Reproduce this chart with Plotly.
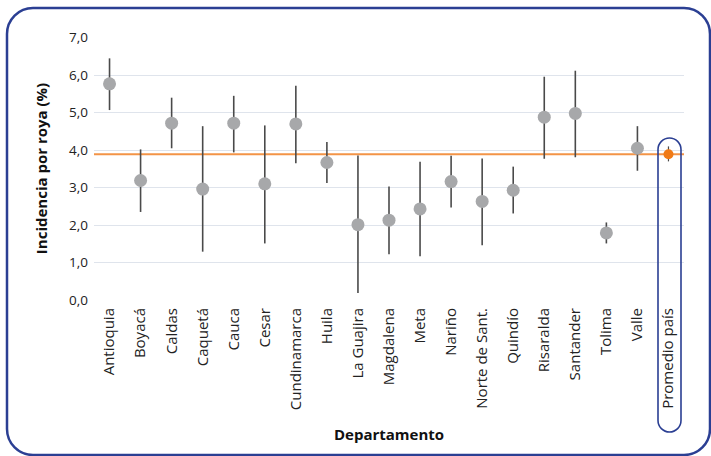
import plotly.graph_objects as go

# Datos
departamentos = ["Antioquia", "Boyacá", "Caldas", "Caquetá", "Cauca", "Cesar",
                 "Cundinamarca", "Huila", "La Guajira", "Magdalena", "Meta", "Nariño",
                 "Norte de Sant.", "Quindío", "Risaralda", "Santander", "Tolima", "Valle"]
incidencia = [5.77, 3.19, 4.72, 2.96, 4.72, 3.10, 4.70, 3.67, 2.01, 2.13, 2.43, 3.16,
              2.63, 2.93, 4.88, 4.98, 1.79, 4.05]
limite_sup = [6.45, 4.02, 5.40, 4.64, 5.45, 4.66, 5.72, 4.22, 3.86, 3.03, 3.69, 3.85,
              3.78, 3.56, 5.96, 6.12, 2.07, 4.64]
limite_inf = [5.07, 2.35, 4.05, 1.29, 3.94, 1.51, 3.65, 3.12, 0.19, 1.22, 1.17, 2.47,
              1.46, 2.31, 3.77, 3.81, 1.51, 3.45]

pais = "Promedio país"
promedio = 3.89
promedio_sup = 4.10
promedio_inf = 3.70

azul = "#2b3f93"
naranja = "#f07a16"
font_fam = "Open Sans, Noto Sans, sans-serif"

fig = go.Figure()

fig.add_hline(y=promedio, line=dict(color="#f39447", width=2), layer="below")

fig.add_trace(go.Scatter(
    x=departamentos, y=incidencia, mode="markers",
    marker=dict(color="#a7a8aa", size=13),
    error_y=dict(type="data", symmetric=False,
                 array=[s - m for s, m in zip(limite_sup, incidencia)],
                 arrayminus=[m - i for m, i in zip(incidencia, limite_inf)],
                 color="#4a4a4a", thickness=1.6, width=0),
    showlegend=False))

fig.add_trace(go.Scatter(
    x=[pais], y=[promedio], mode="markers",
    marker=dict(color=naranja, size=10),
    error_y=dict(type="data", symmetric=False,
                 array=[promedio_sup - promedio], arrayminus=[promedio - promedio_inf],
                 color="#4a4a4a", thickness=1.2, width=0),
    showlegend=False))


def rounded_rect(x0, y0, x1, y1, rx, ry):
    # rectangulo redondeado en coordenadas paper (curvas cubicas)
    k = 0.4477
    return (f"M {x0 + rx},{y1} L {x1 - rx},{y1} "
            f"C {x1 - rx * k},{y1} {x1},{y1 - ry * k} {x1},{y1 - ry} "
            f"L {x1},{y0 + ry} "
            f"C {x1},{y0 + ry * k} {x1 - rx * k},{y0} {x1 - rx},{y0} "
            f"L {x0 + rx},{y0} "
            f"C {x0 + rx * k},{y0} {x0},{y0 + ry * k} {x0},{y0 + ry} "
            f"L {x0},{y1 - ry} "
            f"C {x0},{y1 - ry * k} {x0 + rx * k},{y1} {x0 + rx},{y1} Z")


# plot area: x 94..684 px, y 37..300 px
W, H = 590, 263
px = lambda v: (v - 94) / W
py = lambda v: (300 - v) / H

# marco general
fig.add_shape(type="path", xref="paper", yref="paper",
              path=rounded_rect(px(7), py(455), px(710), py(8), 26 / W, 26 / H),
              line=dict(color=azul, width=2.5))
# resaltado del promedio
fig.add_shape(type="path", xref="paper", yref="paper",
              path=rounded_rect(px(658), py(432), px(681), py(138), 11.5 / W, 11.5 / H),
              line=dict(color=azul, width=1.6))

n_cat = len(departamentos) + 1

fig.update_layout(
    width=711, height=456,
    margin=dict(l=94, r=27, t=37, b=156),
    plot_bgcolor="white", paper_bgcolor="white",
    separators=",.",
    font=dict(family=font_fam, size=13, color="#222222"),
    xaxis=dict(title=dict(text="<b>Departamento</b>", font=dict(size=15, color="#111111"), standoff=20),
               range=[-0.5, n_cat - 0.5],
               tickangle=-90, showgrid=False, zeroline=False, showline=False, automargin=False,
               ticklabelstandoff=4,
               tickfont=dict(size=15, color="#222222"), ticks=""),
    yaxis=dict(title=dict(text="<b>Incidencia por roya (%)</b>", font=dict(size=15, color="#111111"), standoff=17),
               range=[0, 7.02], dtick=1, tickformat=".1f", automargin=False,
               showgrid=True, gridcolor="#dfe4ec", gridwidth=1,
               zeroline=False, showline=False, ticks="", ticklabelstandoff=5,
               tickfont=dict(size=13.5, color="#222222")),
)

fig.write_html("out.html", config={"displayModeBar": False},
               post_script="document.body.style.margin='0';")
